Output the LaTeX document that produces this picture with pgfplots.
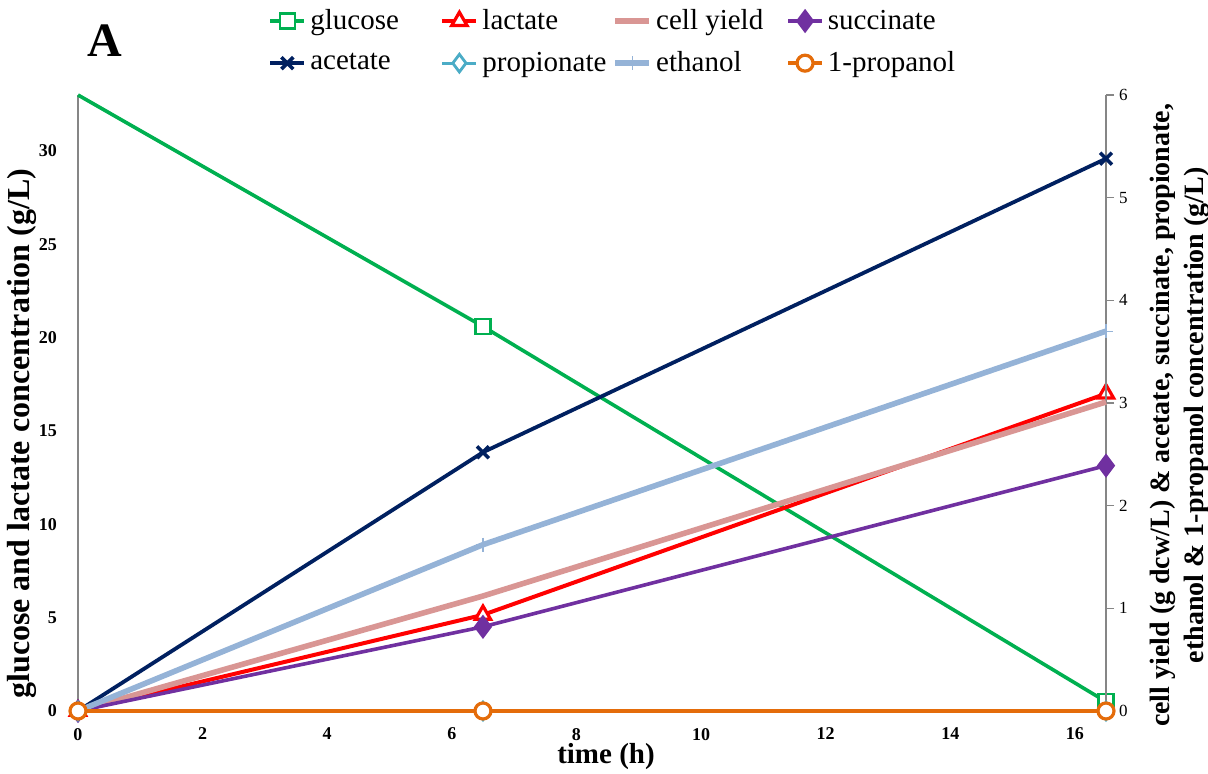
\documentclass[border=0pt]{standalone}
\usepackage{pgfplots}
\pgfplotsset{compat=1.18}
\usepackage{fontspec}
\setmainfont{Liberation Serif}

\definecolor{cGlu}{RGB}{0,176,80}
\definecolor{cLac}{RGB}{255,0,0}
\definecolor{cCell}{RGB}{217,150,148}
\definecolor{cSuc}{RGB}{112,48,160}
\definecolor{cAce}{RGB}{0,32,96}
\definecolor{cPro}{RGB}{75,172,198}
\definecolor{cEth}{RGB}{149,179,215}
\definecolor{cPrl}{RGB}{228,108,10}
\definecolor{axgray}{RGB}{134,134,134}

\pgfplotsset{
  glu/.style={cGlu, line width=1.8pt, mark=square*, mark size=3.8pt,
    mark options={solid, fill=white, line width=1.2pt}},
  lac/.style={cLac, line width=2pt, mark=triangle*, mark size=4.4pt,
    mark options={solid, fill=white, line width=1.6pt}},
  cell/.style={cCell, line width=2.8pt, no marks},
  suc/.style={cSuc, line width=1.8pt, mark=diamond*, mark size=4.6pt,
    mark options={solid, fill=cSuc}},
  ace/.style={cAce, line width=1.9pt, mark=x, mark size=4.2pt,
    mark options={solid, line width=1.8pt}},
  pro/.style={cPro, line width=1.6pt, mark=diamond*, mark size=4.4pt,
    mark options={solid, fill=white, line width=1.4pt}},
  eth/.style={cEth, line width=2.8pt, mark=+, mark size=3.5pt,
    mark options={solid, line width=0.6pt}},
  prl/.style={cPrl, line width=1.7pt, mark=*, mark size=4pt,
    mark options={solid, fill=white, line width=1.6pt}},
  common/.style={
    scale only axis, width=514pt, height=308pt,
    at={(0,0)}, anchor=south west,
    xmin=0, xmax=16.5, ymin=0,
    clip=false,
    axis line style={axgray, line width=0.75pt, -},
    /pgf/number format/assume math mode=true,
  },
}

\begin{document}
\begin{tikzpicture}
% left axis: glucose and lactate (g/L)
\begin{axis}[common,
  ymax=33,
  axis x line*=bottom, axis y line*=left,
  xtick={0,2,...,16}, ytick={0,5,...,30},
  major tick length=0pt,
  tick label style={font=\fontsize{9}{10}\selectfont\bfseries},
  yticklabel style={xshift=-7pt},
  xticklabel style={yshift=-5pt},
  xlabel={time (h)},
  ylabel={glucose and lactate concentration (g/L)},
  every axis x label/.style={at={(axis description cs:0.5136,-0.0747)}, anchor=center,
    font=\fontsize{14.5}{16}\selectfont\bfseries},
  every axis y label/.style={at={(axis description cs:-0.0545,0.45)}, rotate=90, anchor=center,
    font=\fontsize{16}{18}\selectfont\bfseries},
]
\addplot[glu, mark indices={2,3}] coordinates {(0,33) (6.5,20.6) (16.5,0.5)};
\addplot[lac] coordinates {(0,0) (6.5,5.15) (16.5,17.0)};
\node[font=\fontsize{24}{26}\selectfont\bfseries, anchor=center]
  at (axis description cs:0.026,1.089) {A};
\end{axis}

% right axis: cell yield and by-products
\begin{axis}[common,
  ymax=6,
  axis y line*=right, axis x line=none,
  ytick={0,1,...,6},
  tick align=outside, major tick length=4pt,
  ytick style={axgray, line width=0.75pt},
  yticklabel style={font=\fontsize{8.5}{10}\selectfont, xshift=-1pt},
  ylabel={cell yield (g dcw/L) \& acetate, succinate, propionate,\\ ethanol \& 1-propanol concentration (g/L)},
  every axis y label/.style={at={(axis description cs:1.072,0.48)}, rotate=90, anchor=center,
    align=center, font=\fontsize{14}{17}\selectfont\bfseries},
  legend columns=4,
  legend style={draw=none, fill=none, at={(axis description cs:0.1848,1.146)},
    anchor=north west, font=\fontsize{14.5}{16}\selectfont,
    column sep=0pt, row sep=5.5pt, inner sep=0pt},
  legend cell align=left,
]
\addlegendimage{glu}
\addlegendentry{\makebox[63pt][l]{glucose}}
\addlegendimage{lac}
\addlegendentry{\makebox[63pt][l]{lactate}}
\addplot[cell] coordinates {(0,0) (6.5,1.12) (16.5,3.01)};
\addlegendentry{\makebox[63pt][l]{cell yield}}
\addplot[suc] coordinates {(0,0) (6.5,0.82) (16.5,2.39)};
\addlegendentry{\makebox[63pt][l]{succinate}}
\addplot[ace] coordinates {(0,0) (6.5,2.52) (16.5,5.38)};
\addlegendentry{acetate}
\addplot[pro] coordinates {(0,0) (6.5,0) (16.5,0)};
\addlegendentry{propionate}
\addplot[eth] coordinates {(0,0) (6.5,1.62) (16.5,3.70)};
\addlegendentry{ethanol}
\addplot[prl] coordinates {(0,0) (6.5,0) (16.5,0)};
\addlegendentry{1-propanol}
\end{axis}
\pgfresetboundingbox
\path[use as bounding box] (-39pt,-31.5pt) rectangle (565pt,355.5pt);
\end{tikzpicture}
\end{document}
